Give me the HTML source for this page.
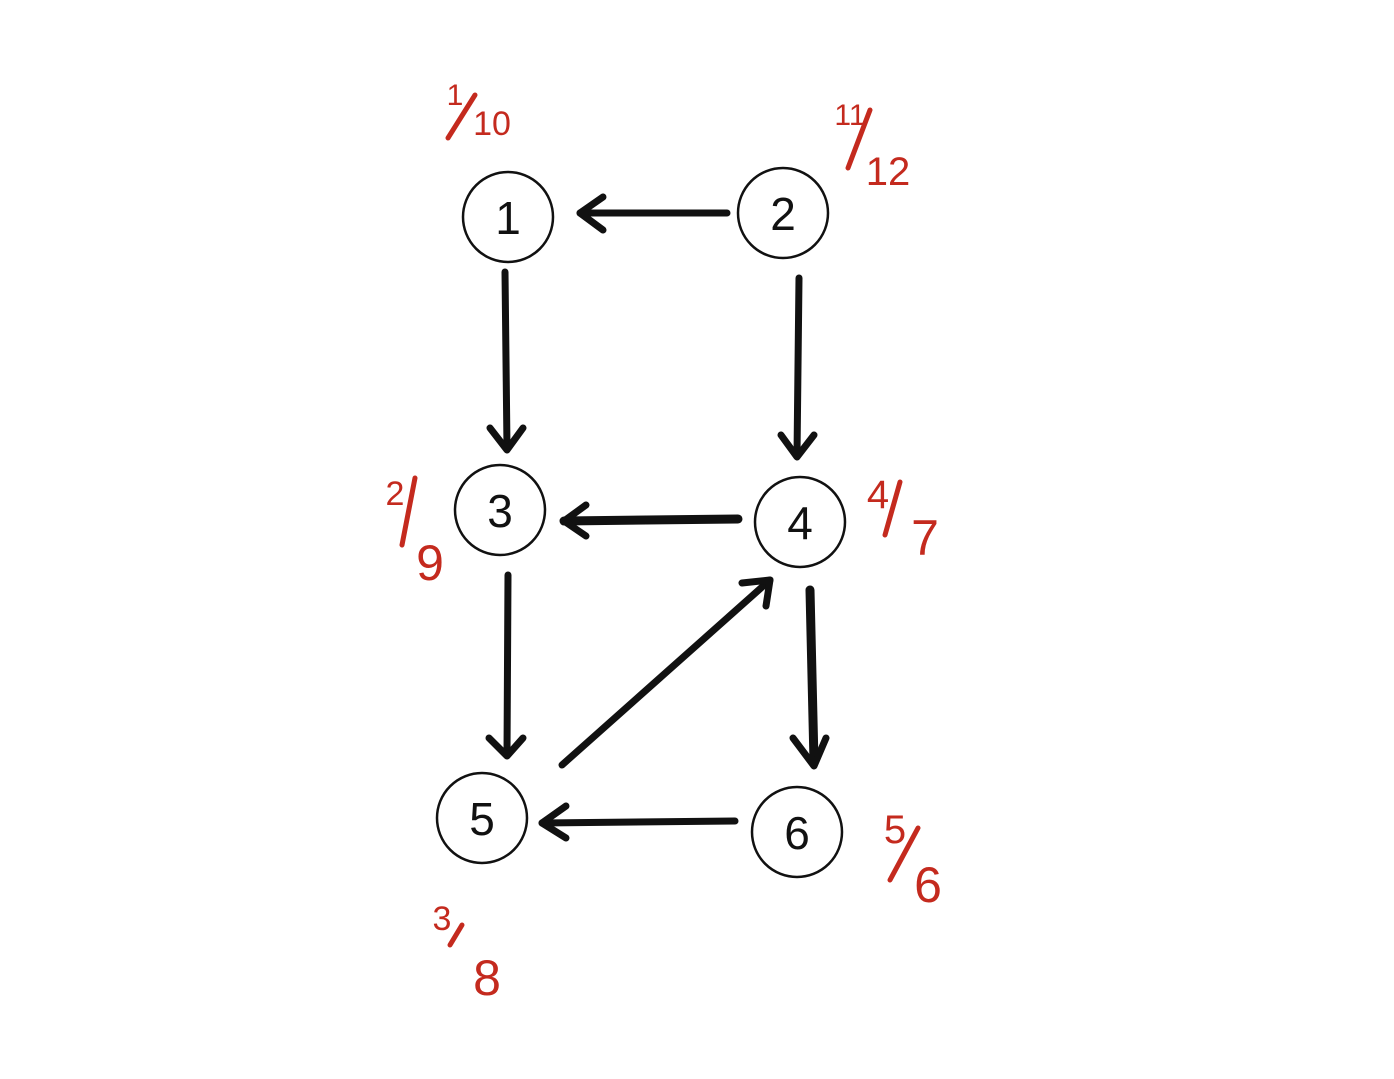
<!DOCTYPE html>
<html><head><style>
html,body{margin:0;padding:0;background:#fff;}
svg{display:block;}
.n{font-family:"Liberation Sans",sans-serif;font-size:46px;fill:#111;text-anchor:middle;}
.r{font-family:"Liberation Sans",sans-serif;fill:#c42a1e;text-anchor:middle;}
</style></head><body>
<svg width="1394" height="1079" viewBox="0 0 1394 1079" xmlns="http://www.w3.org/2000/svg">
<g fill="none" stroke="#111" stroke-width="2.5">
<circle cx="508" cy="217" r="45"/>
<circle cx="783" cy="213" r="45"/>
<circle cx="500" cy="510" r="45"/>
<circle cx="800" cy="522" r="45"/>
<circle cx="482" cy="818" r="45"/>
<circle cx="797" cy="832" r="45"/>
</g>
<g stroke="#111" stroke-width="7" stroke-linecap="round" fill="none" stroke-linejoin="round">
<line x1="727" y1="213" x2="580" y2="213"/><polyline points="603,197 580,213 603,230"/>
<line x1="505" y1="272" x2="507" y2="448"/><polyline points="490,428 507,450 523,428"/>
<line x1="799" y1="278" x2="797" y2="455"/><polyline points="781,435 797,457 814,435"/>
<line x1="738" y1="519" x2="564" y2="521" stroke-width="9"/><polyline points="586,505 564,521 586,536"/>
<line x1="508" y1="575" x2="507" y2="753"/><polyline points="489,738 507,756 523,738"/>
<line x1="562" y1="765" x2="770" y2="580"/><polyline points="742,583 770,580 766,606"/>
<line x1="810" y1="590" x2="814" y2="762" stroke-width="9"/><polyline points="793,738 814,766 826,738"/>
<line x1="735" y1="821" x2="542" y2="823"/><polyline points="566,806 542,823 566,838"/>
</g>
<text class="n" x="508" y="234">1</text>
<text class="n" x="783" y="230">2</text>
<text class="n" x="500" y="527">3</text>
<text class="n" x="800" y="539">4</text>
<text class="n" x="482" y="835">5</text>
<text class="n" x="797" y="849">6</text>
<g stroke="#c42a1e" stroke-width="5" stroke-linecap="round">
<line x1="475" y1="95" x2="448" y2="138"/>
<line x1="870" y1="110" x2="848" y2="168"/>
<line x1="415" y1="478" x2="402" y2="545"/>
<line x1="900" y1="482" x2="885" y2="535"/>
<line x1="918" y1="828" x2="890" y2="880"/>
<line x1="462" y1="925" x2="450" y2="945"/>
</g>
<text class="r" x="455" y="105" font-size="30">1</text>
<text class="r" x="492" y="135" font-size="34">10</text>
<text class="r" x="850" y="125" font-size="30">11</text>
<text class="r" x="888" y="185" font-size="40">12</text>
<text class="r" x="395" y="505" font-size="34">2</text>
<text class="r" x="430" y="580" font-size="50">9</text>
<text class="r" x="878" y="508" font-size="40">4</text>
<text class="r" x="925" y="555" font-size="50">7</text>
<text class="r" x="895" y="843" font-size="40">5</text>
<text class="r" x="928" y="902" font-size="50">6</text>
<text class="r" x="442" y="930" font-size="34">3</text>
<text class="r" x="487" y="995" font-size="50">8</text>
</svg>
</body></html>
